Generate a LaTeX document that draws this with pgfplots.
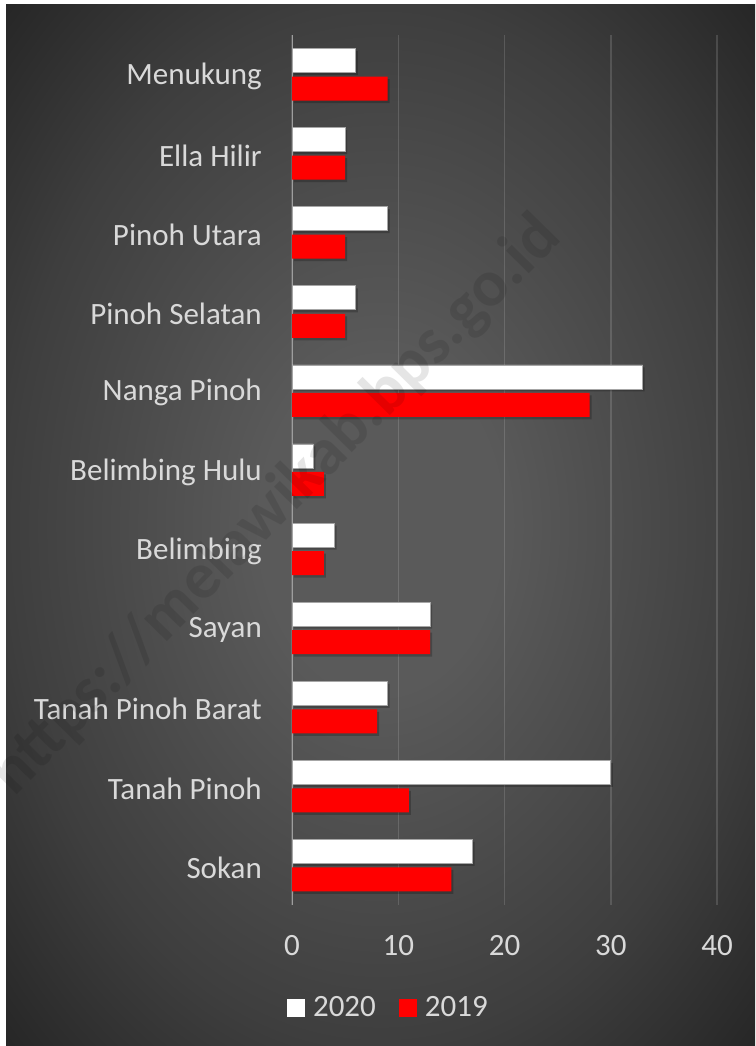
\documentclass[border=0pt]{standalone}
\usepackage{fontspec}
\setmainfont{Carlito}
\usepackage{pgfplots}
\pgfplotsset{compat=1.18}
\usetikzlibrary{shadows}
\definecolor{txt}{HTML}{D9D9D9}
\definecolor{bgin}{HTML}{5A5A5A}
\definecolor{bgmid}{HTML}{3E3E3E}
\definecolor{bgout}{HTML}{252525}
\definecolor{barred}{HTML}{FF0000}
\pgfdeclareradialshading{bgshade}{\pgfpoint{0bp}{0bp}}{color(0bp)=(bgin); color(8bp)=(bgin); color(25bp)=(bgmid); color(36bp)=(bgout); color(50bp)=(bgout)}
\begin{document}
\begin{tikzpicture}[x=1pt,y=1pt]
\useasboundingbox (0,0) rectangle (755,1046);
\fill[white] (0,0) rectangle (755,1046);
\shade[shading=bgshade] (6,0) rectangle (755,1041);
\begin{axis}[
  at={(292pt,141pt)}, anchor=south west,
  scale only axis, width=425pt, height=870pt,
  xbar, bar width=24pt,
  xmin=0, xmax=40, ymin=-0.5, ymax=10.5,
  xtick={0,10,20,30,40},
  ytick={0,1,2,3,4,5,6,7,8,9,10},
  yticklabels={Sokan,Tanah Pinoh,Tanah Pinoh Barat,Sayan,Belimbing,Belimbing Hulu,Nanga Pinoh,Pinoh Selatan,Pinoh Utara,Ella Hilir,Menukung},
  xmajorgrids,
  grid style={white, opacity=0.14, line width=1.5pt},
  axis line style={draw=none},
  major tick length=0pt,
  /pgf/number format/assume math mode=true,
  tick label style={font=\fontsize{31}{36}\selectfont, text=txt},
  xticklabel style={anchor=base, inner sep=0pt, yshift=-50pt},
  yticklabel style={anchor=east, inner sep=0pt, xshift=-30pt, yshift=-2pt},
  legend style={at={(0.228,-0.118)}, anchor=center, draw=none, fill=none,
    legend columns=2, text=txt, font=\fontsize{31}{36}\selectfont,
    nodes={inner sep=3pt},
    /tikz/every odd column/.append style={column sep=5pt},
    /tikz/every even column/.append style={column sep=20pt}},
  legend image code/.code={\fill[#1] (0pt,-9pt) rectangle (18pt,9pt);},
]
\addlegendimage{fill=white, draw=none}
\addlegendentry{2020}
\addlegendimage{fill=barred, draw=none}
\addlegendentry{2019}
\draw[white!62!black, line width=2.5pt] (axis cs:0,-0.5) -- (axis cs:0,10.5);
\addplot[forget plot, fill=white, draw=gray!70, line width=0.8pt, bar shift=14pt,
  drop shadow={shadow xshift=2pt, shadow yshift=-2.5pt, opacity=0.22, fill=black, draw=none}]
  coordinates {(17,0) (30,1) (9,2) (13,3) (4,4) (2,5) (33,6) (6,7) (9,8) (5,9) (6,10)};
\addplot[forget plot, fill=barred, draw=none, bar shift=-14pt,
  drop shadow={shadow xshift=2pt, shadow yshift=-2.5pt, opacity=0.22, fill=black, draw=none}]
  coordinates {(15,0) (11,1) (8,2) (13,3) (3,4) (3,5) (28,6) (5,7) (5,8) (5,9) (9,10)};
\end{axis}
\node[rotate=45.5, text=black, opacity=0.10, font=\bfseries\fontsize{66}{76}\selectfont]
  at (276,540) {https://melawikab.bps.go.id};
\end{tikzpicture}
\end{document}
